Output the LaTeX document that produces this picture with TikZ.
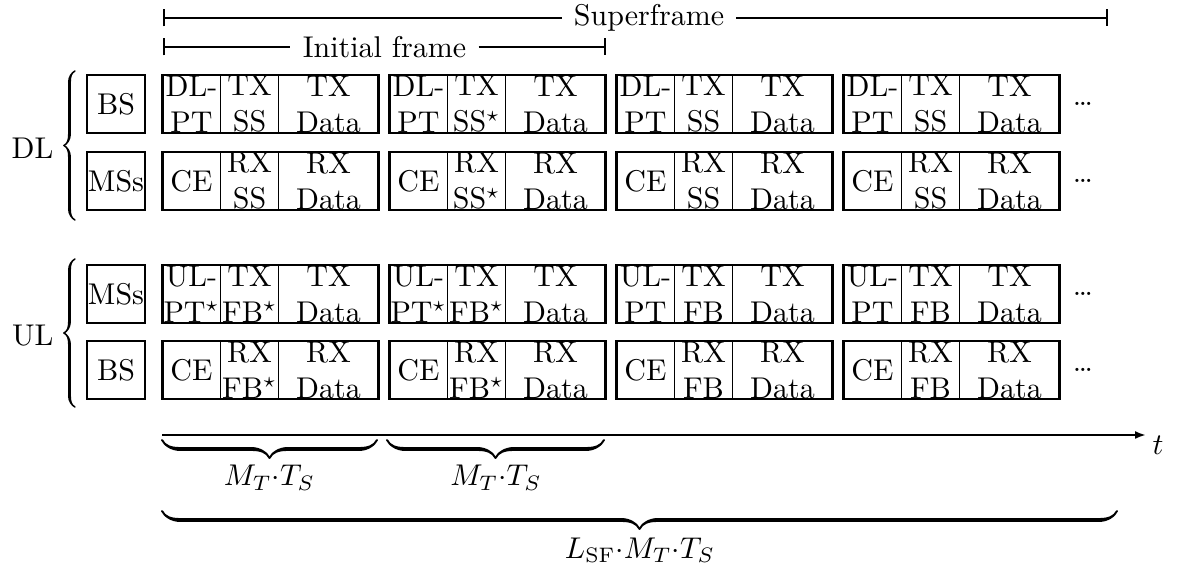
\documentclass[tikz,border=0pt]{standalone}
\usetikzlibrary{arrows.meta,decorations.pathreplacing,calligraphy}
\begin{document}
\begin{tikzpicture}[x=0.333333pt,y=-0.333333pt,
  font=\fontsize{10}{12}\selectfont,
  cell/.style={draw, line width=0.58pt, inner sep=0pt, outer sep=0pt,
    minimum height=19.333pt, align=center, anchor=west},
  slot/.style={cell, minimum width=19.333pt},
  datacell/.style={cell, minimum width=33.333pt},
  frameline/.style={line width=0.83pt},
  station/.style={draw, line width=0.83pt, inner sep=0pt, outer sep=0pt,
    minimum width=19.333pt, minimum height=19.333pt},
  spanL/.style={line width=0.67pt, {Bar[width=5.67pt]}-},
  spanR/.style={line width=0.67pt, -{Bar[width=5.67pt]}},
  spanlabel/.style={inner xsep=3.9pt, inner ysep=0pt},
  grouplabel/.style={inner sep=0pt, anchor=east},
  groupbrace/.style={decorate, decoration={calligraphic brace, amplitude=3.7pt}, line width=1pt},
  timebrace/.style={decorate, decoration={calligraphic brace, amplitude=6pt}, line width=1.3pt},
  more/.style={inner sep=0pt}
]
\useasboundingbox (0,0) rectangle (1177,568);

% spans on top
\coordinate (sfa) at (163,18);
\coordinate (sfb) at (1108,18);
\node[spanlabel] (sf) at (649,18) {Superframe};
\draw[spanL] (sfa) -- (sf.west);
\draw[spanR] (sf.east) -- (sfb);

\coordinate (ifa) at (163,47);
\coordinate (ifb) at (606,47);
\node[spanlabel] (if) at (384.5,47) {Initial frame};
\draw[spanL] (ifa) -- (if.west);
\draw[spanR] (if.east) -- (ifb);

% group labels and braces
\node[grouplabel] (dl) at (54,148) {DL};
\coordinate (dlb0) at (75,220);
\coordinate (dlb1) at (75,71);
\draw[groupbrace] (dlb0) -- (dlb1);
\node[grouplabel] (ul) at (54,336) {UL};
\coordinate (ulb0) at (75,407);
\coordinate (ulb1) at (75,259);
\draw[groupbrace] (ulb0) -- (ulb1);

% stations
\node[station] (bsdl) at (116,104) {BS};
\node[station] (msdl) at (116,181) {MSs};
\node[station] (msul) at (116,294) {MSs};
\node[station] (bsul) at (116,370) {BS};

% DL, base station transmits
\foreach \f/\ta/\tb [evaluate=\f as \fx using 162.5+(\f-1)*227] in
  {1/{DL-\\PT}/{TX\\SS}, 2/{DL-\\PT}/{TX\\SS$^\star$},
   3/{DL-\\PT}/{TX\\SS}, 4/{DL-\\PT}/{TX\\SS}}
{
  \node[slot] (dla\f) at (\fx,104) {\ta};
  \node[slot] (dlb\f) at (dla\f.east) {\tb};
  \node[datacell] (dlc\f) at (dlb\f.east) {TX\\Data};
  \draw[frameline] (dla\f.north west) rectangle (dlc\f.south east);
}
% DL, mobile stations receive
\foreach \f/\ta/\tb [evaluate=\f as \fx using 162.5+(\f-1)*227] in
  {1/{CE}/{RX\\SS}, 2/{CE}/{RX\\SS$^\star$},
   3/{CE}/{RX\\SS}, 4/{CE}/{RX\\SS}}
{
  \node[slot] (dma\f) at (\fx,181) {\ta};
  \node[slot] (dmb\f) at (dma\f.east) {\tb};
  \node[datacell] (dmc\f) at (dmb\f.east) {RX\\Data};
  \draw[frameline] (dma\f.north west) rectangle (dmc\f.south east);
}
% UL, mobile stations transmit
\foreach \f/\ta/\tb [evaluate=\f as \fx using 162.5+(\f-1)*227] in
  {1/{UL-\\PT$^\star$}/{TX\\FB$^\star$}, 2/{UL-\\PT$^\star$}/{TX\\FB$^\star$},
   3/{UL-\\PT}/{TX\\FB}, 4/{UL-\\PT}/{TX\\FB}}
{
  \node[slot] (uma\f) at (\fx,294) {\ta};
  \node[slot] (umb\f) at (uma\f.east) {\tb};
  \node[datacell] (umc\f) at (umb\f.east) {TX\\Data};
  \draw[frameline] (uma\f.north west) rectangle (umc\f.south east);
}
% UL, base station receives
\foreach \f/\ta/\tb [evaluate=\f as \fx using 162.5+(\f-1)*227] in
  {1/{CE}/{RX\\FB$^\star$}, 2/{CE}/{RX\\FB$^\star$},
   3/{CE}/{RX\\FB}, 4/{CE}/{RX\\FB}}
{
  \node[slot] (uba\f) at (\fx,370) {\ta};
  \node[slot] (ubb\f) at (uba\f.east) {\tb};
  \node[datacell] (ubc\f) at (ubb\f.east) {RX\\Data};
  \draw[frameline] (uba\f.north west) rectangle (ubc\f.south east);
}

% continuation dots
\node[more] (dots1) at (1083,104) {\dots};
\node[more] (dots2) at (1083,181) {\dots};
\node[more] (dots3) at (1083,294) {\dots};
\node[more] (dots4) at (1083,370) {\dots};

% time axis
\coordinate (ta) at (162,435);
\coordinate (tb) at (1146,435);
\draw[line width=0.67pt, -{Latex[length=3.67pt,width=2.67pt]}] (ta) -- (tb);
\node[anchor=base west, inner sep=0pt] (tl) at (1152,455) {$t$};

% durations
\coordinate (b1a) at (377,440);
\coordinate (b1b) at (162,440);
\draw[timebrace] (b1a) -- (b1b);
\node (mt1) at (269.5,478) {$M_T{\cdot}T_S$};
\coordinate (b2a) at (604,440);
\coordinate (b2b) at (387,440);
\draw[timebrace] (b2a) -- (b2b);
\node (mt2) at (496,478) {$M_T{\cdot}T_S$};
\coordinate (b3a) at (1117,511);
\coordinate (b3b) at (162,511);
\draw[timebrace] (b3a) -- (b3b);
\node (lsf) at (640,550) {$L_{\mathrm{SF}}{\cdot}M_T{\cdot}T_S$};
\end{tikzpicture}
\end{document}
